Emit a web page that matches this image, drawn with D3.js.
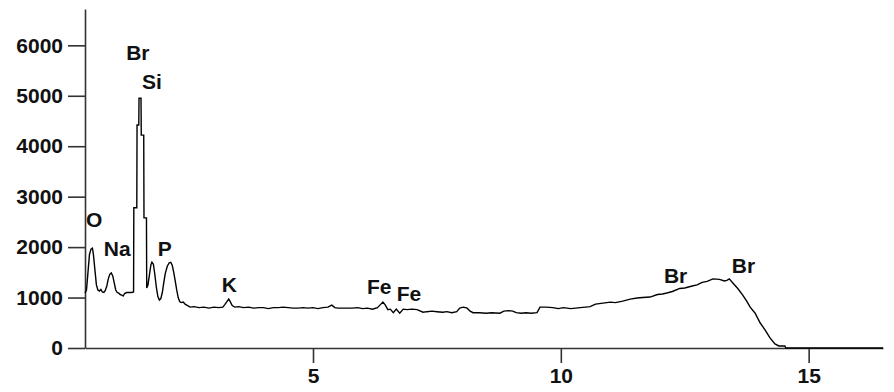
<!DOCTYPE html>
<html>
<head>
<meta charset="utf-8">
<script src="https://cdn.jsdelivr.net/npm/d3@7"></script>
<style>
html,body{margin:0;padding:0;background:#fff;}
svg{display:block;}
</style>
</head>
<body>
<svg id="chart" width="894" height="392"></svg>
<script>
// ---- data (energy in keV, counts) ----
const energy = [
 0.40,0.43,0.46,0.49,0.52,0.55,0.57,0.60,0.63,0.66,0.69,0.72,0.75,0.78,0.81,0.84,0.87,0.90,0.93,0.96,
 0.99,1.02,1.05,1.08,1.11,1.14,1.17,1.20,1.24,1.29,1.34,1.38,1.385,1.445,1.45,1.485,1.49,1.53,1.535,1.585,
 1.59,1.64,1.645,1.67,1.70,1.73,1.75,1.78,1.81,1.84,1.87,1.90,1.93,1.96,1.99,2.02,2.06,2.10,2.13,2.16,
 2.19,2.22,2.25,2.28,2.31,2.34,2.38,2.42,2.47,2.52,2.60,2.70,2.80,2.90,3.00,3.10,3.18,3.22,3.27,3.30,
 3.33,3.37,3.42,3.50,3.60,3.70,3.80,3.90,4.00,4.10,4.20,4.30,4.40,4.50,4.60,4.70,4.80,4.90,5.00,5.10,
 5.20,5.30,5.38,5.44,5.50,5.60,5.70,5.80,5.90,6.00,6.10,6.20,6.30,6.36,6.41,6.46,6.51,6.56,6.62,6.68,
 6.75,6.82,6.90,7.00,7.10,7.22,7.30,7.40,7.50,7.62,7.70,7.80,7.90,7.96,8.03,8.11,8.17,8.23,8.35,8.50,
 8.60,8.77,8.85,8.95,9.03,9.10,9.20,9.30,9.40,9.52,9.58,9.70,9.84,9.95,10.05,10.20,10.30,10.39,10.50,10.59,
 10.70,10.85,11.00,11.10,11.25,11.40,11.54,11.65,11.80,11.95,12.05,12.14,12.25,12.40,12.50,12.65,12.75,12.85,12.95,13.07,
 13.20,13.30,13.35,13.40,13.47,13.57,13.67,13.75,13.82,13.92,14.02,14.12,14.22,14.32,14.40,14.52,14.54,15.00,16.50
];
const counts = [
 1090,1150,1500,1850,1960,1980,1850,1550,1250,1150,1130,1160,1110,1100,1140,1230,1370,1460,1490,1430,
 1290,1150,1100,1090,1060,1050,1030,1080,1100,1100,1100,1110,2780,2780,4420,4420,4950,4950,4220,4220,
 2580,2580,1190,1250,1450,1650,1700,1660,1450,1200,1020,950,980,1100,1300,1480,1620,1690,1700,1640,
 1500,1330,1150,1000,920,900,910,870,840,810,820,800,810,790,810,800,810,860,930,970,
 920,840,810,820,800,810,790,800,800,780,800,800,810,800,790,790,800,790,800,780,
 800,810,850,800,790,790,790,790,800,780,790,770,800,860,910,850,760,770,700,770,
 690,770,760,770,760,710,720,730,720,710,720,700,720,790,810,790,730,700,700,690,
 700,690,730,740,730,700,690,700,690,700,810,810,800,780,800,780,790,800,810,820,
 870,890,910,900,930,970,990,1000,1010,1060,1070,1090,1120,1180,1190,1230,1250,1300,1320,1370,
 1360,1330,1340,1370,1290,1180,1050,930,810,690,500,360,200,80,40,40,0,0,0
];
const yTicks = [0,1000,2000,3000,4000,5000,6000];
const xTicks = [5,10,15];
const labelText   = ["O","Na","Br","Si","P","K","Fe","Fe","Br","Br"];
const labelEnergy = [0.42,0.78,1.23,1.55,1.87,3.16,6.09,6.69,12.08,13.45];
const labelCounts = [2398,1823,5708,5133,1823,1110,1070,932,1288,1487];

// ---- chart ----
const svg = d3.select("#chart");
const x = d3.scaleLinear().domain([0.4, 16.5]).range([85, 883]);
const y = d3.scaleLinear().domain([0, 6720]).range([348, 9]);

const font = "'Liberation Sans', Arial, sans-serif";

const yAxis = svg.append("g")
  .attr("transform", "translate(85,0)")
  .call(d3.axisLeft(y).tickValues(yTicks).tickFormat(d3.format("d"))
        .tickSize(17).tickPadding(5).tickSizeOuter(0));
const xAxis = svg.append("g")
  .attr("transform", "translate(0,348)")
  .call(d3.axisBottom(x).tickValues(xTicks).tickFormat(d3.format("d"))
        .tickSize(15).tickPadding(5).tickSizeOuter(0));

[yAxis, xAxis].forEach(g => {
  g.select(".domain").attr("stroke", "#333").attr("stroke-width", 1.6);
  g.selectAll(".tick line").attr("stroke", "#333").attr("stroke-width", 1.6);
  g.selectAll(".tick text")
    .attr("fill", "#111")
    .style("font-family", font)
    .style("font-weight", "bold")
    .style("font-size", "21px");
});

const pts = energy.map((e, i) => [e, counts[i]]);
const line = d3.line().x(d => x(d[0])).y(d => y(d[1]));
svg.append("path")
  .datum(pts)
  .attr("d", line)
  .attr("fill", "none")
  .attr("stroke", "#000")
  .attr("stroke-width", 1.4)
  .attr("stroke-linejoin", "miter");

svg.append("g").selectAll("text")
  .data(labelText)
  .join("text")
  .attr("x", (d, i) => x(labelEnergy[i]))
  .attr("y", (d, i) => y(labelCounts[i]))
  .attr("fill", "#111")
  .style("font-family", font)
  .style("font-weight", "bold")
  .style("font-size", "21px")
  .text(d => d);
</script>
</body>
</html>
